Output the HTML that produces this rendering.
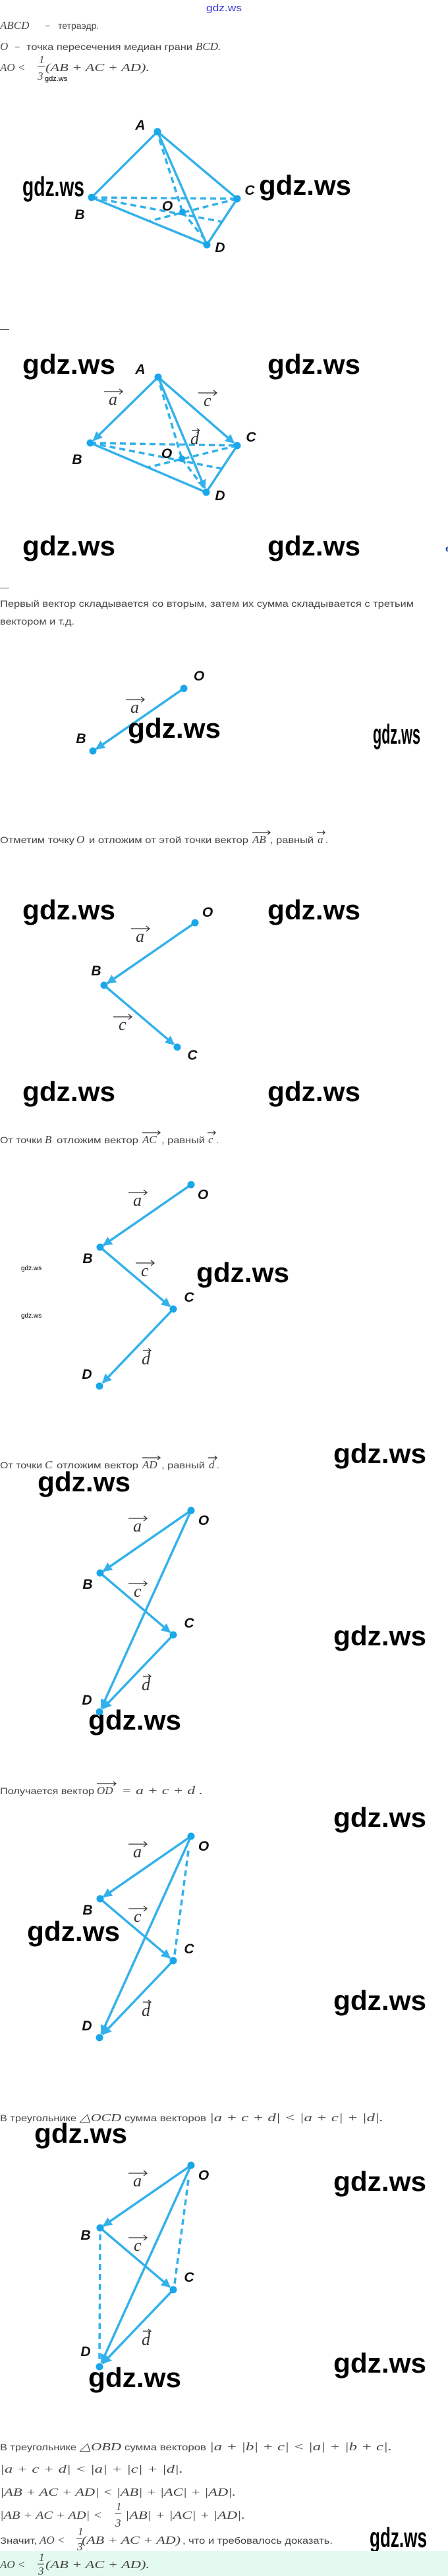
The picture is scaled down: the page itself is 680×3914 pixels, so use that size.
<!DOCTYPE html>
<html><head><meta charset="utf-8"><style>
html,body{margin:0;padding:0;background:#fff;}
svg{display:block}
.t{font-family:"Liberation Sans",sans-serif;font-size:14px;fill:#444}
.m{font-family:"Liberation Serif",serif;font-style:italic;font-size:17px;fill:#444}
.w{font-family:"Liberation Sans",sans-serif;font-weight:bold;font-size:42px;fill:#000}
.n{font-family:"Liberation Sans",sans-serif;font-weight:bold;font-style:italic;font-size:21px;fill:#111}
.v{font-family:"Liberation Serif",serif;font-style:italic;font-size:26px;fill:#333}
.va{stroke:#333;stroke-width:1.3;fill:none}
.e{stroke:#33b1ea;stroke-width:3.5;fill:none;stroke-linecap:round}
.ea{stroke:#33b1ea;stroke-width:3.5;fill:none;marker-end:url(#ah)}
.d{stroke:#33b1ea;stroke-width:3.5;fill:none;stroke-dasharray:9 6}
.p{fill:#1aa6ea}
</style></head><body>
<svg width="680" height="3914" viewBox="0 0 680 3914" xmlns="http://www.w3.org/2000/svg">
<defs>
<marker id="ah" viewBox="0 0 10 10" refX="9" refY="5" markerWidth="4" markerHeight="4" orient="auto"><path d="M0,0 L10,5 L0,10 z" fill="#33b1ea"/></marker>
</defs>

<text x="313" y="17" font-family="Liberation Sans,sans-serif" font-size="15" fill="#3b3bd0" textLength="54" lengthAdjust="spacingAndGlyphs">gdz.ws</text>
<text x="0" y="44" class="m" font-size="18">ABCD</text><text x="68" y="44" class="t">−</text><text x="88" y="44" class="t">тетраэдр.</text>
<text x="0" y="76" class="m" font-size="18">O</text><text x="22" y="76" class="t">−</text><text x="40" y="76" class="t" textLength="252" lengthAdjust="spacingAndGlyphs">точка пересечения медиан грани</text><text x="297" y="76" class="m" font-size="18">BCD.</text>
<text x="0" y="108" class="m" font-size="18">AO &lt;</text>
<text x="59" y="96" class="m" font-size="14" font-style="normal">1</text>
<line x1="57" y1="101" x2="68" y2="101" stroke="#444" stroke-width="1"/>
<text x="57" y="121" class="m" font-size="14" font-style="normal">3</text>
<text x="69" y="108" class="m" font-size="18" textLength="158" lengthAdjust="spacingAndGlyphs">(AB + AC + AD).</text>
<text x="68" y="123" font-family="Liberation Sans,sans-serif" font-size="11" fill="#000">gdz.ws</text>

<g>
<line class="e" x1="239" y1="200" x2="139" y2="300"/>
<line class="e" x1="239" y1="200" x2="360" y2="302"/>
<line class="e" x1="239" y1="200" x2="314" y2="372"/>
<line class="e" x1="139" y1="300" x2="314" y2="372"/>
<line class="e" x1="360" y1="302" x2="314" y2="372"/>
<line class="d" x1="139" y1="300" x2="360" y2="302"/>
<line class="d" x1="242" y1="212" x2="277" y2="322"/>
<line class="d" x1="139" y1="300" x2="337" y2="337"/>
<line class="d" x1="360" y1="302" x2="226" y2="336"/>
<line class="d" x1="277" y1="322" x2="312" y2="365"/>
<circle class="p" cx="239" cy="200" r="5.5"/><circle class="p" cx="139" cy="300" r="5.5"/>
<circle class="p" cx="360" cy="302" r="5.5"/><circle class="p" cx="314" cy="372" r="5.5"/>
<circle class="p" cx="277" cy="322" r="5"/>
<text class="n" x="213" y="197" text-anchor="middle">A</text>
<text class="n" x="121" y="333" text-anchor="middle">B</text>
<text class="n" x="334" y="383" text-anchor="middle">D</text>
<text class="n" x="254" y="320" text-anchor="middle">O</text>
<text class="n" x="379" y="296" text-anchor="middle">C</text>
</g>
<text class="w" x="34" y="298" font-size="30" textLength="94" lengthAdjust="spacingAndGlyphs">gdz.ws</text>
<text class="w" x="393" y="296" textLength="140" lengthAdjust="spacingAndGlyphs">gdz.ws</text>

<text x="0" y="504" class="t" font-size="12" fill="#999">—</text>

<text class="w" x="34" y="568" textLength="141" lengthAdjust="spacingAndGlyphs">gdz.ws</text>
<text class="w" x="406" y="568" textLength="141" lengthAdjust="spacingAndGlyphs">gdz.ws</text>
<g>
<line class="ea" x1="240" y1="573" x2="142" y2="669"/>
<line class="ea" x1="240" y1="573" x2="355" y2="673"/>
<line class="ea" x1="240" y1="573" x2="311" y2="742"/>
<line class="e" x1="137" y1="673" x2="313" y2="748"/>
<line class="e" x1="360" y1="677" x2="313" y2="748"/>
<line class="d" x1="137" y1="673" x2="360" y2="677"/>
<line class="d" x1="243" y1="585" x2="276" y2="697"/>
<line class="d" x1="137" y1="673" x2="336" y2="712"/>
<line class="d" x1="360" y1="677" x2="225" y2="710"/>
<line class="d" x1="276" y1="697" x2="310" y2="742"/>
<circle class="p" cx="240" cy="573" r="5.5"/><circle class="p" cx="137" cy="673" r="5.5"/>
<circle class="p" cx="360" cy="677" r="5.5"/><circle class="p" cx="313" cy="748" r="5.5"/>
<circle class="p" cx="276" cy="697" r="5"/>
<text class="n" x="213" y="568" text-anchor="middle">A</text>
<text class="n" x="117" y="705" text-anchor="middle">B</text>
<text class="n" x="381" y="671" text-anchor="middle">C</text>
<text class="n" x="334" y="760" text-anchor="middle">D</text>
<text class="n" x="253" y="696" text-anchor="middle">O</text>
<g transform="translate(172,605)"><text class="v" x="-7" y="10">a</text><path class="va" d="M-14,-10 H14 M9,-14 L14,-10 L9,-6"/></g>
<g transform="translate(315,607)"><text class="v" x="-6" y="10">c</text><path class="va" d="M-14,-10 H14 M9,-14 L14,-10 L9,-6"/></g>
<g transform="translate(296,665)"><text class="v" x="-7" y="10">d</text><path class="va" d="M-5,-11 H7 M3,-14 L7,-11 L3,-8"/></g>
</g>
<text class="w" x="34" y="844" textLength="141" lengthAdjust="spacingAndGlyphs">gdz.ws</text>
<text class="w" x="406" y="844" textLength="141" lengthAdjust="spacingAndGlyphs">gdz.ws</text>
<text x="676" y="838" font-family="Liberation Sans,sans-serif" font-size="14" font-weight="bold" fill="#1a4e8a">e</text>
<text x="0" y="897" class="t" font-size="12" fill="#999">—</text>

<text x="0" y="922" class="t" textLength="628" lengthAdjust="spacingAndGlyphs">Первый вектор складывается со вторым, затем их сумма складывается с третьим</text>
<text x="0" y="949" class="t" textLength="113" lengthAdjust="spacingAndGlyphs">вектором и т.д.</text>

<g transform="translate(279,1046)">
<line class="ea" x1="0" y1="0" x2="-133" y2="92"/>
<circle class="p" cx="0" cy="0" r="5.5"/><circle class="p" cx="-138" cy="95" r="5.5"/>
<text class="n" x="23" y="-12" text-anchor="middle">O</text>
<text class="n" x="-156" y="83" text-anchor="middle">B</text>
<g transform="translate(-74,27)"><text class="v" x="-7" y="10">a</text><path class="va" d="M-14,-10 H14 M9,-14 L14,-10 L9,-6"/></g>
</g>
<text class="w" x="194" y="1121" textLength="141" lengthAdjust="spacingAndGlyphs">gdz.ws</text>
<text class="w" x="566" y="1130" font-size="22" textLength="72" lengthAdjust="spacingAndGlyphs">gdz.ws</text>

<text x="0" y="1281" class="t" textLength="113" lengthAdjust="spacingAndGlyphs">Отметим точку</text>
<text x="116" y="1281" class="m">O</text>
<text x="135" y="1281" class="t" textLength="242" lengthAdjust="spacingAndGlyphs">и отложим от этой точки вектор</text>
<text x="383" y="1281" class="m">AB</text>
<text x="410" y="1281" class="t" textLength="66" lengthAdjust="spacingAndGlyphs">, равный</text>
<text x="482" y="1281" class="m">a</text><text x="494" y="1281" class="t">.</text>
<path class="va" d="M383,1265 H410 M406,1262 L410,1265 L406,1268 M481,1265 H493 M490,1262 L493,1265 L490,1268" stroke="#666"/>

<text class="w" x="34" y="1397" textLength="141" lengthAdjust="spacingAndGlyphs">gdz.ws</text>
<text class="w" x="406" y="1397" textLength="141" lengthAdjust="spacingAndGlyphs">gdz.ws</text>
<g transform="translate(296,1402)">
<line class="ea" x1="0" y1="0" x2="-133" y2="92"/>
<line class="ea" x1="-138" y1="95" x2="-32" y2="185"/>
<circle class="p" cx="0" cy="0" r="5.5"/><circle class="p" cx="-138" cy="95" r="5.5"/><circle class="p" cx="-27" cy="189" r="5.5"/>
<text class="n" x="19" y="-9" text-anchor="middle">O</text>
<text class="n" x="-150" y="80" text-anchor="middle">B</text>
<text class="n" x="-4" y="208" text-anchor="middle">C</text>
<g transform="translate(-83,19)"><text class="v" x="-7" y="10">a</text><path class="va" d="M-14,-10 H14 M9,-14 L14,-10 L9,-6"/></g>
<g transform="translate(-110,153)"><text class="v" x="-6" y="10">c</text><path class="va" d="M-14,-10 H14 M9,-14 L14,-10 L9,-6"/></g>
</g>
<text class="w" x="34" y="1673" textLength="141" lengthAdjust="spacingAndGlyphs">gdz.ws</text>
<text class="w" x="406" y="1673" textLength="141" lengthAdjust="spacingAndGlyphs">gdz.ws</text>

<text x="0" y="1737" class="t" textLength="64" lengthAdjust="spacingAndGlyphs">От точки</text>
<text x="68" y="1737" class="m">B</text>
<text x="86" y="1737" class="t" textLength="124" lengthAdjust="spacingAndGlyphs">отложим вектор</text>
<text x="216" y="1737" class="m">AC</text>
<text x="245" y="1737" class="t" textLength="66" lengthAdjust="spacingAndGlyphs">, равный</text>
<text x="316" y="1737" class="m">c</text><text x="328" y="1737" class="t">.</text>
<path class="va" d="M216,1721 H243 M239,1718 L243,1721 L239,1724 M315,1721 H327 M324,1718 L327,1721 L324,1724" stroke="#666"/>

<g transform="translate(290,1800)">
<line class="ea" x1="0" y1="0" x2="-133" y2="92"/>
<line class="ea" x1="-138" y1="95" x2="-32" y2="185"/>
<line class="ea" x1="-27" y1="189" x2="-134" y2="301"/>
<circle class="p" cx="0" cy="0" r="5.5"/><circle class="p" cx="-138" cy="95" r="5.5"/><circle class="p" cx="-27" cy="189" r="5.5"/><circle class="p" cx="-139" cy="306" r="5.5"/>
<text class="n" x="18" y="22" text-anchor="middle">O</text>
<text class="n" x="-157" y="119" text-anchor="middle">B</text>
<text class="n" x="-3" y="178" text-anchor="middle">C</text>
<text class="n" x="-158" y="295" text-anchor="middle">D</text>
<g transform="translate(-81,22)"><text class="v" x="-7" y="10">a</text><path class="va" d="M-14,-10 H14 M9,-14 L14,-10 L9,-6"/></g>
<g transform="translate(-70,129)"><text class="v" x="-6" y="10">c</text><path class="va" d="M-14,-10 H14 M9,-14 L14,-10 L9,-6"/></g>
<g transform="translate(-68,263)"><text class="v" x="-7" y="10">d</text><path class="va" d="M-5,-11 H7 M3,-14 L7,-11 L3,-8"/></g>
</g>
<text class="w" x="298" y="1948" textLength="141" lengthAdjust="spacingAndGlyphs">gdz.ws</text>
<text x="32" y="1930" font-family="Liberation Sans,sans-serif" font-size="10" fill="#000">gdz.ws</text>
<text x="32" y="2002" font-family="Liberation Sans,sans-serif" font-size="10" fill="#000">gdz.ws</text>

<text class="w" x="506" y="2223" textLength="141" lengthAdjust="spacingAndGlyphs">gdz.ws</text>
<text x="0" y="2231" class="t" textLength="64" lengthAdjust="spacingAndGlyphs">От точки</text>
<text x="68" y="2231" class="m">C</text>
<text x="86" y="2231" class="t" textLength="124" lengthAdjust="spacingAndGlyphs">отложим вектор</text>
<text x="216" y="2231" class="m">AD</text>
<text x="245" y="2231" class="t" textLength="66" lengthAdjust="spacingAndGlyphs">, равный</text>
<text x="317" y="2231" class="m">d</text><text x="329" y="2231" class="t">.</text>
<path class="va" d="M216,2215 H243 M239,2212 L243,2215 L239,2218 M316,2215 H329 M326,2212 L329,2215 L326,2218" stroke="#666"/>
<text class="w" x="57" y="2266" textLength="141" lengthAdjust="spacingAndGlyphs">gdz.ws</text>

<g transform="translate(290,2295)">
<line class="ea" x1="0" y1="0" x2="-133" y2="92"/>
<line class="ea" x1="-138" y1="95" x2="-32" y2="185"/>
<line class="ea" x1="-27" y1="189" x2="-134" y2="301"/>
<line class="ea" x1="0" y1="0" x2="-136" y2="300"/>
<circle class="p" cx="0" cy="0" r="5.5"/><circle class="p" cx="-138" cy="95" r="5.5"/><circle class="p" cx="-27" cy="189" r="5.5"/><circle class="p" cx="-139" cy="306" r="5.5"/>
<text class="n" x="19" y="22" text-anchor="middle">O</text>
<text class="n" x="-157" y="119" text-anchor="middle">B</text>
<text class="n" x="-3" y="178" text-anchor="middle">C</text>
<text class="n" x="-158" y="295" text-anchor="middle">D</text>
<g transform="translate(-81,22)"><text class="v" x="-7" y="10">a</text><path class="va" d="M-14,-10 H14 M9,-14 L14,-10 L9,-6"/></g>
<g transform="translate(-81,121)"><text class="v" x="-6" y="10">c</text><path class="va" d="M-14,-10 H14 M9,-14 L14,-10 L9,-6"/></g>
<g transform="translate(-68,263)"><text class="v" x="-7" y="10">d</text><path class="va" d="M-5,-11 H7 M3,-14 L7,-11 L3,-8"/></g>
</g>
<text class="w" x="506" y="2500" textLength="141" lengthAdjust="spacingAndGlyphs">gdz.ws</text>
<text class="w" x="134" y="2628" textLength="141" lengthAdjust="spacingAndGlyphs">gdz.ws</text>

<text x="0" y="2726" class="t" textLength="143" lengthAdjust="spacingAndGlyphs">Получается вектор</text>
<text x="147" y="2726" class="m">OD</text>
<text x="184" y="2726" class="m" textLength="124" lengthAdjust="spacingAndGlyphs">= a + c + d .</text>
<path class="va" d="M147,2710 H176 M172,2707 L176,2710 L172,2713" stroke="#666"/>
<text class="w" x="506" y="2776" textLength="141" lengthAdjust="spacingAndGlyphs">gdz.ws</text>

<g transform="translate(290,2790)">
<line class="ea" x1="0" y1="0" x2="-133" y2="92"/>
<line class="ea" x1="-138" y1="95" x2="-32" y2="185"/>
<line class="ea" x1="-27" y1="189" x2="-134" y2="301"/>
<line class="ea" x1="0" y1="0" x2="-136" y2="300"/>
<line class="d" x1="-4" y1="22" x2="-25" y2="180"/>
<circle class="p" cx="0" cy="0" r="5.5"/><circle class="p" cx="-138" cy="95" r="5.5"/><circle class="p" cx="-27" cy="189" r="5.5"/><circle class="p" cx="-139" cy="306" r="5.5"/>
<text class="n" x="19" y="22" text-anchor="middle">O</text>
<text class="n" x="-157" y="119" text-anchor="middle">B</text>
<text class="n" x="-3" y="178" text-anchor="middle">C</text>
<text class="n" x="-158" y="295" text-anchor="middle">D</text>
<g transform="translate(-81,22)"><text class="v" x="-7" y="10">a</text><path class="va" d="M-14,-10 H14 M9,-14 L14,-10 L9,-6"/></g>
<g transform="translate(-81,120)"><text class="v" x="-6" y="10">c</text><path class="va" d="M-14,-10 H14 M9,-14 L14,-10 L9,-6"/></g>
<g transform="translate(-68,263)"><text class="v" x="-7" y="10">d</text><path class="va" d="M-5,-11 H7 M3,-14 L7,-11 L3,-8"/></g>
</g>
<text class="w" x="41" y="2949" textLength="141" lengthAdjust="spacingAndGlyphs">gdz.ws</text>
<text class="w" x="506" y="3054" textLength="141" lengthAdjust="spacingAndGlyphs">gdz.ws</text>

<text x="0" y="3223" class="t" textLength="116" lengthAdjust="spacingAndGlyphs">В треугольнике</text>
<text x="121" y="3223" class="m" textLength="63" lengthAdjust="spacingAndGlyphs">△OCD</text>
<text x="189" y="3223" class="t" textLength="124" lengthAdjust="spacingAndGlyphs">сумма векторов</text>
<text x="318" y="3223" class="m" textLength="264" lengthAdjust="spacingAndGlyphs">|a + c + d| &lt; |a + c| + |d|.</text>
<text class="w" x="52" y="3256" textLength="141" lengthAdjust="spacingAndGlyphs">gdz.ws</text>

<g transform="translate(290,3290)">
<line class="ea" x1="0" y1="0" x2="-133" y2="92"/>
<line class="ea" x1="-138" y1="95" x2="-32" y2="185"/>
<line class="ea" x1="-27" y1="189" x2="-134" y2="301"/>
<line class="ea" x1="0" y1="0" x2="-136" y2="300"/>
<line class="d" x1="-4" y1="22" x2="-25" y2="180"/>
<line class="d" x1="-138" y1="105" x2="-139" y2="295"/>
<circle class="p" cx="0" cy="0" r="5.5"/><circle class="p" cx="-138" cy="95" r="5.5"/><circle class="p" cx="-27" cy="189" r="5.5"/><circle class="p" cx="-139" cy="306" r="5.5"/>
<text class="n" x="19" y="22" text-anchor="middle">O</text>
<text class="n" x="-160" y="113" text-anchor="middle">B</text>
<text class="n" x="-3" y="177" text-anchor="middle">C</text>
<text class="n" x="-160" y="290" text-anchor="middle">D</text>
<g transform="translate(-81,22)"><text class="v" x="-7" y="10">a</text><path class="va" d="M-14,-10 H14 M9,-14 L14,-10 L9,-6"/></g>
<g transform="translate(-81,120)"><text class="v" x="-6" y="10">c</text><path class="va" d="M-14,-10 H14 M9,-14 L14,-10 L9,-6"/></g>
<g transform="translate(-68,263)"><text class="v" x="-7" y="10">d</text><path class="va" d="M-5,-11 H7 M3,-14 L7,-11 L3,-8"/></g>
</g>
<text class="w" x="506" y="3329" textLength="141" lengthAdjust="spacingAndGlyphs">gdz.ws</text>
<text class="w" x="506" y="3605" textLength="141" lengthAdjust="spacingAndGlyphs">gdz.ws</text>
<text class="w" x="134" y="3627" textLength="141" lengthAdjust="spacingAndGlyphs">gdz.ws</text>

<text x="0" y="3723" class="t" textLength="116" lengthAdjust="spacingAndGlyphs">В треугольнике</text>
<text x="121" y="3723" class="m" textLength="63" lengthAdjust="spacingAndGlyphs">△OBD</text>
<text x="189" y="3723" class="t" textLength="124" lengthAdjust="spacingAndGlyphs">сумма векторов</text>
<text x="318" y="3723" class="m" textLength="277" lengthAdjust="spacingAndGlyphs">|a + |b| + c| &lt; |a| + |b + c|.</text>
<text x="0" y="3757" class="m" textLength="278" lengthAdjust="spacingAndGlyphs">|a + c + d| &lt; |a| + |c| + |d|.</text>
<text x="0" y="3792" class="m" textLength="358" lengthAdjust="spacingAndGlyphs">|AB + AC + AD| &lt; |AB| + |AC| + |AD|.</text>
<text x="0" y="3827" class="m" textLength="155" lengthAdjust="spacingAndGlyphs">|AB + AC + AD| &lt;</text>
<text x="176" y="3814" class="m" font-style="normal" font-size="13">1</text>
<line x1="174" y1="3819" x2="184" y2="3819" stroke="#444"/>
<text x="175" y="3839" class="m" font-style="normal" font-size="13">3</text>
<text x="190" y="3827" class="m" textLength="182" lengthAdjust="spacingAndGlyphs">|AB| + |AC| + |AD|.</text>

<text x="0" y="3865" class="t" textLength="56" lengthAdjust="spacingAndGlyphs">Значит,</text>
<text x="60" y="3865" class="m">AO &lt;</text>
<text x="124" y="3865" class="m" textLength="150" lengthAdjust="spacingAndGlyphs">(AB + AC + AD)</text>
<text x="277" y="3865" class="t" textLength="228" lengthAdjust="spacingAndGlyphs">, что и требовалось доказать.</text>
<text x="118" y="3852" class="m" font-style="normal" font-size="13">1</text>
<line x1="116" y1="3857" x2="125" y2="3857" stroke="#444"/>
<text x="117" y="3875" class="m" font-style="normal" font-size="13">3</text>
<text class="w" x="561" y="3870" font-size="30" textLength="87" lengthAdjust="spacingAndGlyphs">gdz.ws</text>

<rect x="0" y="3876" width="680" height="38" fill="#e3fbee"/>
<text x="0" y="3902" class="m" font-size="18">AO &lt;</text>
<text x="59" y="3891" class="m" font-style="normal" font-size="13">1</text>
<line x1="57" y1="3896" x2="67" y2="3896" stroke="#444"/>
<text x="58" y="3912" class="m" font-style="normal" font-size="13">3</text>
<text x="69" y="3902" class="m" font-size="18" textLength="158" lengthAdjust="spacingAndGlyphs">(AB + AC + AD).</text>
</svg>
</body></html>
